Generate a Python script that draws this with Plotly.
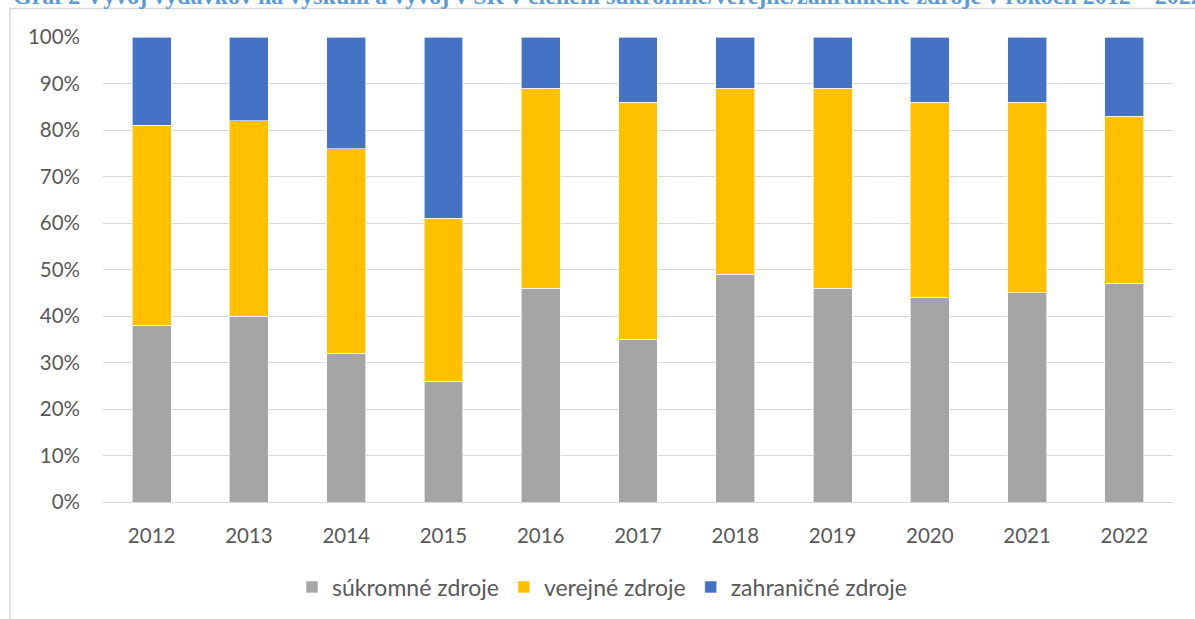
import plotly.graph_objects as go

years = ["2012", "2013", "2014", "2015", "2016", "2017", "2018", "2019", "2020", "2021", "2022"]
sukromne = [38, 40, 32, 26, 46, 35, 49, 46, 44, 45, 47]
verejne = [43, 42, 44, 35, 43, 51, 40, 43, 42, 41, 36]
zahranicne = [19, 18, 24, 39, 11, 14, 11, 11, 14, 14, 17]

series_names = ["súkromné zdroje", "verejné zdroje", "zahraničné zdroje"]
colors = ["#A5A5A5", "#FFC000", "#4472C4"]

title_text = ("Graf 2 Vývoj výdavkov na výskum a vývoj v SR v členení "
              "súkromné/verejné/zahraničné zdroje v rokoch 2012 – 2022")

W, H = 1195, 619
L, R, T, B = 103, 22, 37, 116
pw, ph = W - L - R, H - T - B


# pixel -> paper helpers (page has no body margin, see post_script)
def px_x(x):
    return (x - L) / pw


def px_y(y):
    return (H - B - y) / ph


fig = go.Figure()
for name, vals, col in zip(series_names, [sukromne, verejne, zahranicne], colors):
    fig.add_trace(go.Bar(
        x=years, y=vals, name=name,
        marker=dict(color=col, line=dict(color="white", width=0.6)),
    ))

fig.update_layout(
    width=W, height=H,
    barmode="stack",
    bargap=0.6,
    margin=dict(l=L, r=R, t=T, b=B),
    paper_bgcolor="white",
    plot_bgcolor="white",
    font=dict(family="Lato, sans-serif", size=20.5, color="#595959"),
    showlegend=True,
    legend=dict(
        orientation="h", x=px_x(292), xanchor="left",
        y=px_y(587), yanchor="middle",
        font=dict(size=23, color="#595959"),
        traceorder="normal",
    ),
    xaxis=dict(
        showgrid=False, showline=False, ticks="",
        ticklabelstandoff=19,
    ),
    yaxis=dict(
        range=[0, 100], dtick=10, ticksuffix="%",
        showgrid=True, gridcolor="#D9D9D9", gridwidth=1,
        zeroline=True, zerolinecolor="#D9D9D9", zerolinewidth=1,
        showline=False, ticks="", ticklabelstandoff=22,
    ),
    shapes=[
        dict(type="line", xref="paper", yref="paper",
             x0=px_x(10), x1=px_x(1300), y0=px_y(8.5), y1=px_y(8.5),
             line=dict(color="#D9D9D9", width=1.5)),
        dict(type="line", xref="paper", yref="paper",
             x0=px_x(10), x1=px_x(10), y0=px_y(8.5), y1=px_y(700),
             line=dict(color="#D9D9D9", width=1.5)),
    ],
    annotations=[
        dict(text="<b>" + title_text + "</b>", xref="paper", yref="paper",
             x=px_x(12), y=px_y(10), xanchor="left", yanchor="bottom",
             showarrow=False, borderpad=0,
             font=dict(family="Liberation Serif, Times New Roman, serif",
                       size=24, color="#5B9BD5")),
    ],
)

fig.write_html("out.html", config={"displayModeBar": False},
               post_script="document.body.style.margin = '0';")
